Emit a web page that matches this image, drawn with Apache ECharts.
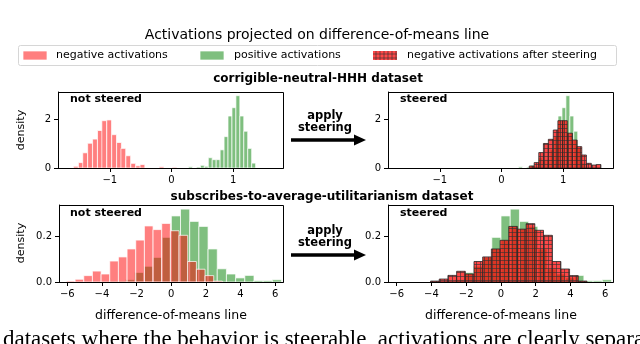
<!DOCTYPE html>
<html>
<head>
<meta charset="utf-8">
<script src="https://cdn.jsdelivr.net/npm/echarts@6.0.0/dist/echarts.min.js"></script>
<style>
  html, body { margin: 0; padding: 0; background: #fff; }
  #chart { width: 640px; height: 344px; }
</style>
</head>
<body>
<div id="chart"></div>
<script>
// corrigible-neutral-HHH (top row), bin centers and densities
var topNegX = [-1.55, -1.47, -1.40, -1.32, -1.24, -1.16, -1.09, -1.01, -0.93, -0.85, -0.78, -0.70, -0.62, -0.54, -0.47, -0.16, 0.05];
var topNegY = [0.07, 0.22, 0.62, 1.01, 1.18, 1.53, 1.93, 1.96, 1.36, 1.04, 0.80, 0.50, 0.19, 0.09, 0.14, 0.05, 0.03];
var topPosX = [0.31, 0.438, 0.502, 0.566, 0.63, 0.694, 0.758, 0.822, 0.886, 0.95, 1.014, 1.078, 1.142, 1.206, 1.27, 1.334];
var topPosY = [0.05, 0.04, 0.11, 0.07, 0.42, 0.34, 0.34, 0.74, 1.28, 2.12, 2.46, 2.95, 2.12, 1.50, 0.80, 0.20];
var topSteerX = [0.49, 0.57, 0.645, 0.72, 0.80, 0.88, 0.955, 1.03, 1.11, 1.19, 1.265, 1.34, 1.42, 1.50, 1.575];
var topSteerY = [0.08, 0.22, 0.63, 1.00, 1.17, 1.55, 1.93, 1.93, 1.42, 1.14, 0.87, 0.53, 0.19, 0.12, 0.14];
var topNegW = 0.0775, topPosW = 0.064;

// subscribes-to-average-utilitarianism (bottom row)
var botNegX = [-5.8, -5.3, -4.8, -4.3, -3.8, -3.3, -2.8, -2.3, -1.8, -1.3, -0.8, -0.3, 0.2, 0.7, 1.2, 1.7, 2.2, 2.7];
var botNegY = [0.004, 0.012, 0.028, 0.048, 0.035, 0.092, 0.110, 0.145, 0.184, 0.246, 0.230, 0.257, 0.225, 0.205, 0.090, 0.056, 0.028, 0.004];
var botPosX = [-3.44, -2.91, -2.38, -1.85, -1.32, -0.79, -0.26, 0.27, 0.80, 1.33, 1.86, 2.39, 2.92, 3.45, 3.98, 4.51, 5.04, 5.57, 6.10];
var botPosY = [0.003, 0.004, 0.010, 0.042, 0.069, 0.108, 0.196, 0.290, 0.320, 0.266, 0.244, 0.145, 0.058, 0.035, 0.018, 0.029, 0.006, 0.006, 0.010];
var botSteerX = [-3.8, -3.3, -2.8, -2.3, -1.8, -1.3, -0.8, -0.3, 0.2, 0.7, 1.2, 1.7, 2.2, 2.7, 3.2, 3.7, 4.2, 4.7];
var botSteerY = [0.004, 0.013, 0.029, 0.047, 0.035, 0.090, 0.110, 0.145, 0.183, 0.244, 0.232, 0.256, 0.227, 0.205, 0.090, 0.057, 0.028, 0.004];
var botNegW = 0.5, botPosW = 0.53;

// axis ticks
var topXTicks = [-1, 0, 1], topYTicks = [0, 2];
var botXTicks = [-6, -4, -2, 0, 2, 4, 6], botYTicks = [0, 0.2];

var FONT = 'DejaVu Sans';
var RED = 'rgba(255,0,0,0.5)', GREEN = 'rgba(0,128,0,0.5)';
var HATCH_FILL = 'rgba(255,0,0,0.72)', HATCH_LINE = 'rgba(50,50,50,0.62)';

function minus(v) { return String(v).replace('-', '\u2212'); }

// one histogram as rects in data units
function hist(idx, xs, ys, w, look) {
  return {
    type: 'custom', xAxisIndex: idx, yAxisIndex: idx, clip: true,
    data: xs.map(function (x, i) { return [x, ys[i]]; }),
    renderItem: function (params, api) {
      var x = api.value(0), h = api.value(1);
      var a = api.coord([x - w / 2, h]);
      var b = api.coord([x + w / 2, 0]);
      var r = { x: a[0], y: a[1], width: b[0] - a[0], height: b[1] - a[1] };
      if (look != 'hatch') {
        return { type: 'rect', shape: r, style: { fill: look, stroke: 'rgba(255,255,255,0.9)', lineWidth: 0.8 } };
      }
      var kids = [{ type: 'rect', shape: r, style: { fill: HATCH_FILL } }];
      var s = 4;
      for (var gx = Math.ceil(r.x / s) * s; gx < r.x + r.width; gx += s)
        kids.push({ type: 'line', shape: { x1: gx + 0.5, y1: r.y, x2: gx + 0.5, y2: r.y + r.height }, style: { stroke: HATCH_LINE, lineWidth: 1 } });
      for (var gy = Math.ceil(r.y / s) * s; gy < r.y + r.height; gy += s)
        kids.push({ type: 'line', shape: { x1: r.x, y1: gy + 0.5, x2: r.x + r.width, y2: gy + 0.5 }, style: { stroke: HATCH_LINE, lineWidth: 1 } });
      kids.push({ type: 'rect', shape: r, style: { fill: 'none', stroke: 'rgba(40,40,40,0.8)', lineWidth: 1 } });
      return { type: 'group', children: kids };
    }
  };
}

function xAx(gi, min, max, ticks) {
  return {
    type: 'value', gridIndex: gi, min: min, max: max, splitLine: { show: false },
    axisLine: { show: true, onZero: false, lineStyle: { color: '#000', width: 1 } },
    axisTick: { show: true, customValues: ticks, length: 4, lineStyle: { color: '#000' } },
    axisLabel: { customValues: ticks, color: '#000', fontSize: 10, fontFamily: FONT, margin: 7, formatter: minus }
  };
}
function yAx(gi, max, ticks, fmt) {
  return {
    type: 'value', gridIndex: gi, min: 0, max: max, splitLine: { show: false },
    axisLine: { show: true, onZero: false, lineStyle: { color: '#000', width: 1 } },
    axisTick: { show: true, customValues: ticks, length: 4, lineStyle: { color: '#000' } },
    axisLabel: { customValues: ticks, color: '#000', fontSize: 10, fontFamily: FONT, margin: 7, formatter: fmt }
  };
}

function txt(x, y, s, size, bold, align, rot) {
  return { type: 'text', x: x, y: y, rotation: rot || 0,
    style: { text: s, fontSize: size, fontFamily: FONT, fontWeight: bold ? 'bold' : 'normal', fill: '#000',
      textAlign: align || 'center', textVerticalAlign: 'middle' } };
}
function arrow(y) {
  return [
    { type: 'line', shape: { x1: 291, y1: y, x2: 357, y2: y }, style: { stroke: '#000', lineWidth: 3.5 } },
    { type: 'polygon', shape: { points: [[354, y - 5.5], [366, y], [354, y + 5.5]] }, style: { fill: '#000' } }
  ];
}
function hatchPatch(x, y, w, h) {
  var kids = [{ type: 'rect', shape: { x: x, y: y, width: w, height: h }, style: { fill: HATCH_FILL } }];
  for (var gx = x + 3; gx < x + w; gx += 4)
    kids.push({ type: 'line', shape: { x1: gx, y1: y, x2: gx, y2: y + h }, style: { stroke: HATCH_LINE, lineWidth: 1 } });
  for (var gy = y + 3; gy < y + h; gy += 4)
    kids.push({ type: 'line', shape: { x1: x, y1: gy, x2: x + w, y2: gy }, style: { stroke: HATCH_LINE, lineWidth: 1 } });
  return { type: 'group', children: kids };
}

var grids = [
  { left: 58, top: 92, width: 225, height: 76 },
  { left: 388, top: 92, width: 225, height: 76 },
  { left: 59, top: 205, width: 224, height: 77 },
  { left: 388, top: 205, width: 225, height: 77 }
];

// panel frames (matplotlib spines)
var frames = grids.map(function (g) {
  return { type: 'rect', z: 100, silent: true,
    shape: { x: g.left + 0.5, y: g.top + 0.5, width: g.width, height: g.height },
    style: { fill: 'none', stroke: '#000', lineWidth: 1 } };
});

var graphic = [
  txt(317, 35, 'Activations projected on difference-of-means line', 14, false),
  { type: 'rect', shape: { x: 18.5, y: 45.5, width: 598, height: 20, r: 2 }, style: { fill: '#fff', stroke: '#d6d6d6', lineWidth: 1 } },
  { type: 'rect', shape: { x: 23, y: 51, width: 24, height: 9 }, style: { fill: RED, stroke: 'rgba(255,255,255,0.9)', lineWidth: 0.8 } },
  txt(56, 55.5, 'negative activations', 11, false, 'left'),
  { type: 'rect', shape: { x: 200, y: 51, width: 24, height: 9 }, style: { fill: GREEN, stroke: 'rgba(255,255,255,0.9)', lineWidth: 0.8 } },
  txt(234, 55.5, 'positive activations', 11, false, 'left'),
  hatchPatch(373, 51, 24, 9),
  txt(407, 55.5, 'negative activations after steering', 11, false, 'left'),
  txt(318, 79, 'corrigible-neutral-HHH dataset', 12, true),
  txt(322, 197, 'subscribes-to-average-utilitarianism dataset', 12, true),
  txt(70, 99, 'not steered', 11, true, 'left'),
  txt(400, 99, 'steered', 11, true, 'left'),
  txt(70, 213, 'not steered', 11, true, 'left'),
  txt(400, 213, 'steered', 11, true, 'left'),
  txt(325, 116, 'apply', 11.5, true),
  txt(325, 128.5, 'steering', 11.5, true),
  txt(325, 231, 'apply', 11.5, true),
  txt(325, 243.5, 'steering', 11.5, true),
  txt(21, 130, 'density', 11, false, 'center', Math.PI / 2),
  txt(21, 243, 'density', 11, false, 'center', Math.PI / 2),
  txt(171, 316, 'difference-of-means line', 12.5, false),
  txt(501, 316, 'difference-of-means line', 12.5, false),
  { type: 'text', x: 3, y: 328, style: { text: 'datasets where the behavior is steerable, activations are clearly separated', fontSize: 23,
    fontFamily: 'Liberation Serif', fill: '#000', textVerticalAlign: 'top' } }
].concat(arrow(140), arrow(255), frames);

var myChart = echarts.init(document.getElementById('chart'), null, { renderer: 'canvas' });
var option = {
  animation: false,
  backgroundColor: '#fff',
  grid: grids,
  xAxis: [xAx(0, -1.84, 1.81, topXTicks), xAx(1, -1.84, 1.81, topXTicks), xAx(2, -6.48, 6.45, botXTicks), xAx(3, -6.5, 6.45, botXTicks)],
  yAxis: [
    yAx(0, 3.1, topYTicks, function (v) { return String(v); }),
    yAx(1, 3.1, topYTicks, function (v) { return String(v); }),
    yAx(2, 0.338, botYTicks, function (v) { return v.toFixed(1); }),
    yAx(3, 0.338, botYTicks, function (v) { return v.toFixed(1); })
  ],
  series: [
    hist(0, topPosX, topPosY, topPosW, GREEN),
    hist(0, topNegX, topNegY, topNegW, RED),
    hist(1, topPosX, topPosY, topPosW, GREEN),
    hist(1, topSteerX, topSteerY, topNegW, 'hatch'),
    hist(2, botPosX, botPosY, botPosW, GREEN),
    hist(2, botNegX, botNegY, botNegW, RED),
    hist(3, botPosX, botPosY, botPosW, GREEN),
    hist(3, botSteerX, botSteerY, botNegW, 'hatch')
  ],
  graphic: graphic
};
myChart.setOption(option);
</script>
</body>
</html>
